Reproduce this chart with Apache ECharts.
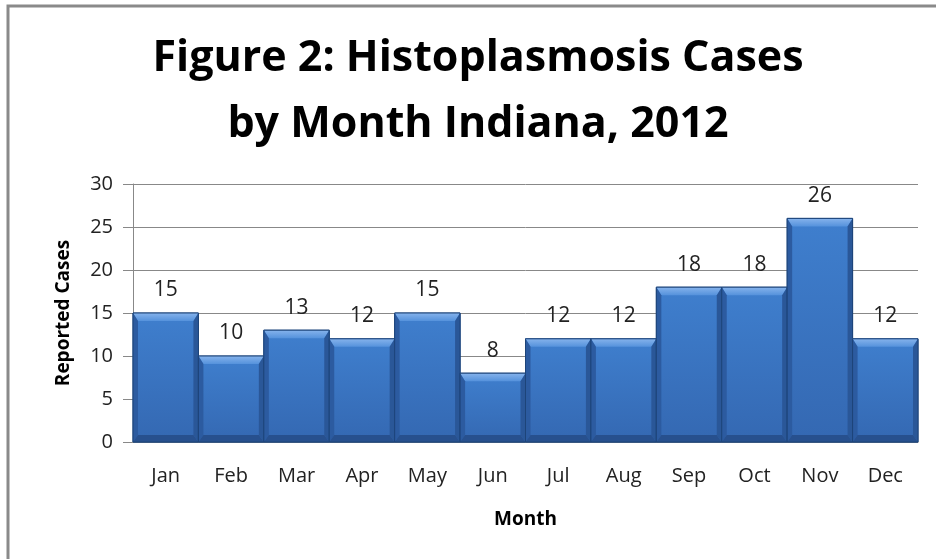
<!DOCTYPE html>
<html>
<head>
<meta charset="utf-8">
<script src="https://cdn.jsdelivr.net/npm/echarts@6/dist/echarts.min.js"></script>
<style>html,body{margin:0;padding:0;background:#fff}#chart{width:936px;height:559px}</style>
</head>
<body>
<div id="chart"></div>
<script>
const titleLines = ["Figure 2: Histoplasmosis Cases", "by Month Indiana, 2012"];
const months = ["Jan","Feb","Mar","Apr","May","Jun","Jul","Aug","Sep","Oct","Nov","Dec"];
const cases = [15,10,13,12,15,8,12,12,18,18,26,12];
const yTicks = {min: 0, max: 30, interval: 5};
const xTitle = "Month";
const yTitle = "Reported Cases";

const chart = echarts.init(document.getElementById('chart'));
const font = "'Open Sans', sans-serif";
const G = echarts.graphic;

function renderBar(params, api) {
  const idx = api.value(0);
  const val = api.value(1);
  const top = api.coord([idx, val]);
  const base = api.coord([idx, 0]);
  const w = api.size([1, 0])[0];
  const x0 = top[0] - w / 2, x1 = top[0] + w / 2;
  const y0 = top[1], y1 = base[1];
  const b = 8, s = 5, bb = 7;
  return {
    type: 'group',
    children: [
      {type: 'rect', shape: {x: x0, y: y0, width: w, height: y1 - y0},
        style: {fill: new G.LinearGradient(0, 0, 0, 1, [
          {offset: 0, color: '#3f7fce'}, {offset: 1, color: '#3468b2'}]),
          stroke: '#234c88', lineWidth: 1}},
      {type: 'polygon', shape: {points: [[x0, y0], [x1, y0], [x1 - s, y0 + b], [x0 + s, y0 + b]]},
        style: {fill: new G.LinearGradient(0, 0, 0, 1, [
          {offset: 0, color: '#86b3ec'}, {offset: 1, color: '#5592dc'}])}},
      {type: 'polygon', shape: {points: [[x0, y0], [x0 + s, y0 + b], [x0 + s, y1 - bb], [x0, y1]]},
        style: {fill: '#2c5ba0'}},
      {type: 'polygon', shape: {points: [[x1, y0], [x1 - s, y0 + b], [x1 - s, y1 - bb], [x1, y1]]},
        style: {fill: '#2a5798'}},
      {type: 'polygon', shape: {points: [[x0, y1], [x0 + s, y1 - bb], [x1 - s, y1 - bb], [x1, y1]]},
        style: {fill: '#27508e'}},
      {type: 'rect', shape: {x: x0, y: y0, width: w, height: y1 - y0},
        style: {fill: 'none', stroke: '#1d4479', lineWidth: 1}},
      {type: 'text', x: top[0], y: y0 - 12,
        style: {text: String(val), textAlign: 'center', textVerticalAlign: 'bottom',
          font: "21px 'Open Sans', sans-serif", fill: '#222'}}
    ]
  };
}

chart.setOption({
  animation: false,
  backgroundColor: '#fff',
  title: {
    text: titleLines.join('\n'),
    left: 473, top: 21, textAlign: 'center',
    textStyle: {fontFamily: font, fontWeight: 'bold', fontSize: 43, lineHeight: 66, color: '#000'}
  },
  graphic: [{
    type: 'rect', shape: {x: 8, y: 6, width: 1200, height: 1200},
    style: {fill: 'none', stroke: '#8a8a8a', lineWidth: 3}, silent: true, z: 100
  }],
  grid: {left: 133, right: 18, top: 184, bottom: 117},
  xAxis: {
    type: 'category', data: months,
    name: xTitle, nameLocation: 'middle', nameGap: 68,
    nameTextStyle: {fontFamily: font, fontWeight: 'bold', fontSize: 19, color: '#000'},
    axisLine: {lineStyle: {color: '#888'}},
    axisTick: {show: false},
    axisLabel: {fontFamily: font, fontSize: 20, color: '#222', margin: 24}
  },
  yAxis: {
    type: 'value', min: yTicks.min, max: yTicks.max, interval: yTicks.interval,
    name: yTitle, nameLocation: 'middle', nameGap: 60, nameRotate: 90,
    nameTextStyle: {fontFamily: font, fontWeight: 'bold', fontSize: 19, color: '#000'},
    axisLine: {show: true, lineStyle: {color: '#888'}},
    axisTick: {show: true, length: 10, lineStyle: {color: '#888'}},
    axisLabel: {fontFamily: font, fontSize: 20, color: '#222', margin: 20},
    splitLine: {lineStyle: {color: '#888'}}
  },
  series: [{
    type: 'custom', renderItem: renderBar,
    data: cases.map((v, i) => [i, v]),
    encode: {x: 0, y: 1}
  }]
});
</script>
</body>
</html>
